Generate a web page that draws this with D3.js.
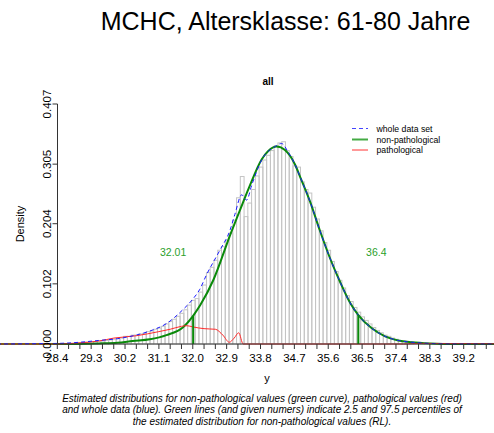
<!DOCTYPE html>
<html><head><meta charset="utf-8">
<script src="https://cdn.jsdelivr.net/npm/d3@7"></script>
<style>body{margin:0;background:#fff}svg{display:block;font-family:"Liberation Sans",Arial,sans-serif}</style>
</head><body><svg id="c" width="494" height="433"></svg>
<script>
// Histogram bin centres (bin width 0.1) and densities
const binCenters = d3.range(290, 382).map(d => d / 10);
const binDensity = [
0.002,0.003,0.003,0.004,0.004,0.005,0.005,0.006,0.007,0.008,
0.009,0.010,0.013,0.013,0.015,0.015,0.017,0.018,0.021,0.022,
0.025,0.027,0.030,0.034,0.038,0.042,0.047,0.052,0.058,0.066,
0.074,0.077,0.088,0.100,0.121,0.130,0.142,0.159,0.165,0.176,
0.188,0.210,0.248,0.284,0.216,0.239,0.262,0.285,0.300,0.312,
0.320,0.328,0.336,0.341,0.343,0.328,0.318,0.302,0.300,0.275,
0.262,0.256,0.232,0.212,0.192,0.172,0.159,0.140,0.123,0.108,
0.095,0.082,0.072,0.062,0.054,0.046,0.040,0.034,0.028,0.023,
0.019,0.015,0.013,0.010,0.008,0.006,0.005,0.004,0.003,0.002,
0.002,0.001];

// Non-pathological (green) curve
const greenX = [26.8,28.4,29.5,30.0,30.4,30.86,31.3,31.75,32.0,32.2,32.55,33.0,33.26,33.5,33.83,34.0,34.23,34.45,34.72,34.85,35.12,35.38,35.65,35.91,36.18,36.4,36.75,37.11,37.46,37.82,38.3,39.0,41.0];
const greenY = [0,0,0.001,0.002,0.005,0.008,0.015,0.029,0.047,0.066,0.109,0.186,0.228,0.266,0.313,0.327,0.335,0.329,0.304,0.284,0.241,0.192,0.145,0.106,0.070,0.049,0.027,0.013,0.006,0.003,0.001,0,0];

// Whole data set (blue dashed)
const blueX = [26.8,28.4,29.0,29.5,30.0,30.42,30.86,31.31,31.75,32.0,32.18,32.37,32.72,32.99,33.12,33.30,33.43,33.57,33.83,34.19,34.36,34.53,34.72,34.85,35.12,35.38,35.65,35.91,36.18,36.4,36.75,37.11,37.46,37.82,38.3,39.0,41.0];
const blueY = [0,0.001,0.003,0.006,0.009,0.014,0.022,0.035,0.059,0.076,0.092,0.118,0.159,0.193,0.220,0.253,0.244,0.270,0.312,0.335,0.340,0.326,0.304,0.284,0.241,0.192,0.145,0.106,0.070,0.049,0.027,0.013,0.006,0.003,0.001,0,0];

// Pathological (red)
const redX = [26.8,28.4,29.0,29.5,29.9,30.5,31.1,31.4,31.7,31.85,32.0,32.3,32.6,32.8,32.97,33.1,33.22,33.34,33.6,37.6,38.1,41.0];
const redY = [0,0,0.002,0.005,0.010,0.014,0.021,0.025,0.030,0.031,0.029,0.026,0.025,0.015,0.003,0.010,0.019,0,0,0,0.001,0];

// Reference limits
const limits = [32.01, 36.4];
const limitLabels = ["32.01", "36.4"];
const limitHeights = [0.048, 0.049];

// Axis ticks
const xTicks = d3.range(0, 40).map(i => +(28.4 + 0.3 * i).toFixed(1));
const xTickLabels = ["28.4","29.3","30.2","31.1","32.0","32.9","33.8","34.7","35.6","36.5","37.4","38.3","39.2"];
const yTicks = [0, 0.102, 0.204, 0.305, 0.407];
const yTickLabels = ["0.000","0.102","0.204","0.305","0.407"];

const legendLabels = ["whole data set","non-pathological","pathological"];
const caption = [
 "Estimated distributions for non-pathological values (green curve), pathological values (red)",
 "and whole data (blue). Green lines (and given numers) indicate 2.5 and 97.5 percentiles of",
 "the estimated distribution for non-pathological values (RL)."];

const svg = d3.select("#c");
const x = d3.scaleLinear().domain([28.4, 39.2]).range([57.3, 463.7]);
const y = d3.scaleLinear().domain([0, 0.407]).range([344, 104]);

// Titles
svg.append("text").attr("x", 285.5).attr("y", 30).attr("text-anchor","middle")
  .attr("font-size", 25).attr("fill","#000").text("MCHC, Altersklasse: 61-80 Jahre");
svg.append("text").attr("x", 268).attr("y", 85).attr("text-anchor","middle")
  .attr("font-size", 10).attr("font-weight","bold").text("all");

// Histogram
const bw = 0.1;
svg.append("g").selectAll("rect").data(binCenters).join("rect")
  .attr("x", (d) => x(d - bw/2) + 0.5)
  .attr("width", (d) => x(d + bw/2) - x(d - bw/2))
  .attr("y", (d,i) => y(binDensity[i]))
  .attr("height", (d,i) => y(0) - y(binDensity[i]))
  .attr("fill","none").attr("stroke","#c4c4c4").attr("stroke-width",1);

const line = d3.line().x(d => x(d[0])).y(d => y(d[1])).curve(d3.curveMonotoneX);
const zip = (a,b) => a.map((v,i) => [v, b[i]]);

svg.append("path").attr("d", line(zip(greenX, greenY))).attr("fill","none")
  .attr("stroke","#0a8a0a").attr("stroke-width",2);
svg.append("path").attr("d", line(zip(redX, redY))).attr("fill","none")
  .attr("stroke","#ff2a2a").attr("stroke-width",1);
svg.append("path").attr("d", line(zip(blueX, blueY))).attr("fill","none")
  .attr("stroke","#1a1aff").attr("stroke-width",1).attr("stroke-dasharray","4,3");

// Limit lines and labels
limits.forEach((v,i) => {
  svg.append("line").attr("x1", x(v)).attr("x2", x(v)).attr("y1", y(0)).attr("y2", y(limitHeights[i]))
    .attr("stroke","#0a8a0a").attr("stroke-width",2);
  svg.append("text").attr("x", x(v) + (i === 0 ? -20 : 18)).attr("y", 256).attr("text-anchor","middle")
    .attr("font-size", 10.5).attr("fill","#2aa02a").text(limitLabels[i]);
});

// X axis
const xa = svg.append("g").attr("stroke","#333");
xa.append("line").attr("x1", x(28.4)).attr("x2", x(xTicks[xTicks.length-1])).attr("y1", 344).attr("y2", 344);
xa.selectAll("line.t").data(xTicks).join("line").attr("class","t")
  .attr("x1", d => x(d)).attr("x2", d => x(d)).attr("y1", 344).attr("y2", 349);
svg.append("g").selectAll("text").data(xTickLabels).join("text")
  .attr("x", d => x(+d)).attr("y", 361.5).attr("text-anchor","middle")
  .attr("font-size", 11.5).attr("fill","#000").text(d => d);
svg.append("text").attr("x", 267).attr("y", 382).attr("text-anchor","middle")
  .attr("font-size", 11).text("y");

// Y axis
const ya = svg.append("g").attr("stroke","#333");
ya.append("line").attr("x1", 57.5).attr("x2", 57.5).attr("y1", y(0)).attr("y2", y(0.407));
ya.selectAll("line.t").data(yTicks).join("line").attr("class","t")
  .attr("x1", 52.5).attr("x2", 57.5).attr("y1", d => y(d)).attr("y2", d => y(d));
svg.append("g").selectAll("text").data(yTicks).join("text")
  .attr("transform", d => `translate(51,${y(d)}) rotate(-90)`).attr("text-anchor","middle")
  .attr("font-size", 11.5).attr("fill","#000").text((d,i) => yTickLabels[i]);
svg.append("text").attr("transform","translate(24,224) rotate(-90)").attr("text-anchor","middle")
  .attr("font-size", 11).text("Density");

// Legend
const legColors = ["#4444ff","#44aa44","#ff3333"];
const legY = [128.5, 139.5, 150];
legendLabels.forEach((t,i) => {
  const l = svg.append("line").attr("x1", 352).attr("x2", 368).attr("y1", legY[i]).attr("y2", legY[i])
    .attr("stroke", legColors[i]).attr("stroke-width", i === 1 ? 2 : 1);
  if (i === 0) l.attr("stroke-dasharray","4,3");
  svg.append("text").attr("x", 376.5).attr("y", legY[i] + 3).attr("font-size", 8.7).text(t);
});

// Caption
caption.forEach((t,i) => {
  svg.append("text").attr("x", 262).attr("y", 401.5 + i * 11.7).attr("text-anchor","middle")
    .attr("font-size", 10).attr("font-style","italic").text(t);
});
</script></body></html>
